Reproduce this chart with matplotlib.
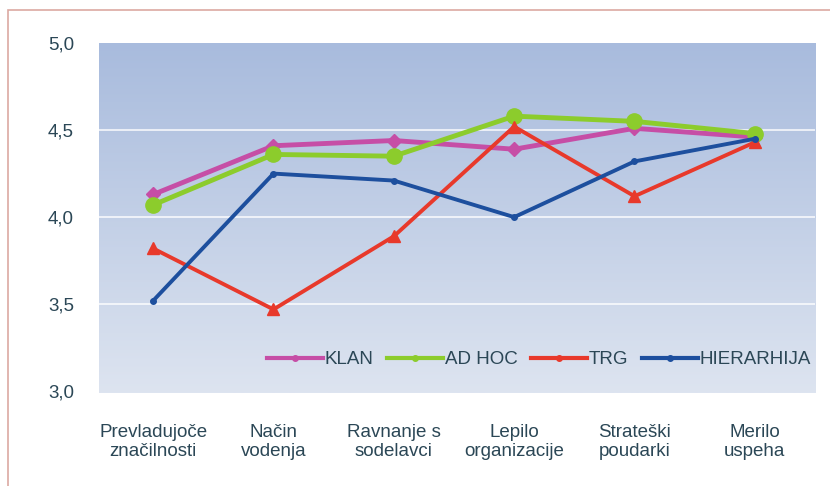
import numpy as np
import matplotlib
matplotlib.use("Agg")
import matplotlib.pyplot as plt
from matplotlib.colors import LinearSegmentedColormap
from matplotlib.patches import Rectangle
from matplotlib.lines import Line2D

categories = ["Prevladujoče\nznačilnosti", "Način\nvodenja", "Ravnanje s\nsodelavci",
              "Lepilo\norganizacije", "Strateški\npoudarki", "Merilo\nuspeha"]
klan = [4.13, 4.41, 4.44, 4.39, 4.51, 4.46]
ad_hoc = [4.07, 4.36, 4.35, 4.58, 4.55, 4.48]
trg = [3.82, 3.47, 3.89, 4.52, 4.12, 4.43]
hierarhija = [3.52, 4.25, 4.21, 4.00, 4.32, 4.45]
y_ticks = [3.0, 3.5, 4.0, 4.5, 5.0]
y_tick_labels = ["3,0", "3,5", "4,0", "4,5", "5,0"]

plt.rcParams["font.family"] = ["Liberation Sans", "DejaVu Sans"]
text_color = "#2b4756"
fs = 13.5

fig = plt.figure(figsize=(8.3, 4.86), dpi=100)
fig.patch.set_facecolor("white")
# thin frame around the figure (top and left edges visible)
fig.add_artist(Rectangle((8 / 830, -0.05), 1.2, 1 - 10 / 486 + 0.05,
                         transform=fig.transFigure, fill=False,
                         edgecolor="#dba9a2", linewidth=1.2))

ax = fig.add_axes([99 / 830, 1 - 393 / 486, 716 / 830, 350 / 486])
ax.set_xlim(-0.45, 5.5)
ax.set_ylim(2.99, 5.0)

# vertical gradient background
cmap = LinearSegmentedColormap.from_list("bg", ["#dde4f0", "#a8bbdd"])
grad = np.linspace(0, 1, 256).reshape(-1, 1)
ax.imshow(grad, cmap=cmap, aspect="auto", origin="lower",
          extent=[-0.45, 5.5, 2.99, 5.0], zorder=0)

for y in y_ticks[1:-1]:
    ax.axhline(y, color="white", linewidth=1.3, alpha=0.8, zorder=1)

x = np.arange(len(categories))
ax.plot(x, klan, color="#c64ea6", linewidth=3.5, marker="D", markersize=7,
        label="KLAN", zorder=3)
ax.plot(x, ad_hoc, color="#8ccc2c", linewidth=3.5, marker="o", markersize=11,
        label="AD HOC", zorder=4)
ax.plot(x, trg, color="#e8392b", linewidth=2.8, marker="^", markersize=8,
        label="TRG", zorder=5)
ax.plot(x, hierarhija, color="#1d4f9e", linewidth=2.8, marker="o", markersize=4,
        label="HIERARHIJA", zorder=6)

ax.set_xticks(x)
ax.set_xticklabels(categories, fontsize=fs, color=text_color, linespacing=1.2)
ax.set_yticks(y_ticks)
ax.set_yticklabels(y_tick_labels, fontsize=fs, color=text_color)
ax.tick_params(axis="both", length=0)
ax.tick_params(axis="y", pad=18)
ax.tick_params(axis="x", pad=22)
for s in ax.spines.values():
    s.set_visible(False)

handles, labels = ax.get_legend_handles_labels()
leg_handles = [Line2D([], [], color=h.get_color(), linewidth=3, marker="o",
                      markersize=4) for h in handles]
leg = ax.legend(leg_handles, labels, loc="center right", bbox_to_anchor=(1.005, 0.095),
                ncol=4, frameon=False, fontsize=fs, handlelength=3.0,
                handletextpad=0.1, columnspacing=0.7, borderaxespad=0)
for t in leg.get_texts():
    t.set_color(text_color)

fig.savefig("out.png", dpi=100)
